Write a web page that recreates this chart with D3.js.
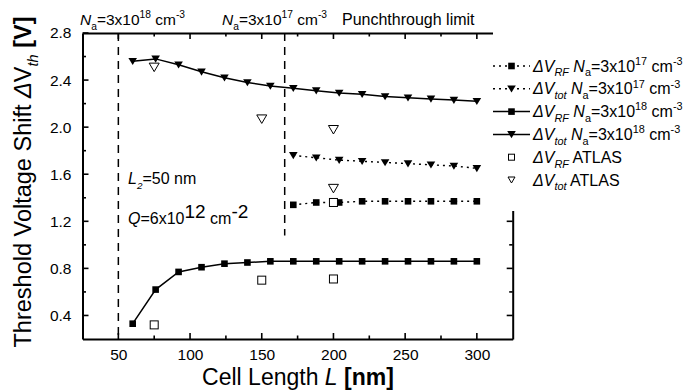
<!DOCTYPE html>
<html><head><meta charset="utf-8">
<script src="https://cdn.jsdelivr.net/npm/d3@7/dist/d3.min.js"></script>
<style>
body{margin:0;background:#fff;}
text{font-family:Arial,"Liberation Sans",sans-serif;fill:#000;}
</style></head>
<body><svg id="c" width="691" height="392"></svg>
<script>
// ---- data ----
const xTicks = [50, 100, 150, 200, 250, 300];
const yTicks = [0.4, 0.8, 1.2, 1.6, 2.0, 2.4, 2.8];
const L18 = [60, 76, 92, 108, 124, 140, 156, 172, 188, 204, 220, 236, 252, 268, 284, 300];
const rf18 = [0.33, 0.62, 0.77, 0.81, 0.84, 0.85, 0.86, 0.86, 0.86, 0.86, 0.86, 0.86, 0.86, 0.86, 0.86, 0.86];
const tot18 = [2.56, 2.58, 2.53, 2.47, 2.42, 2.38, 2.35, 2.33, 2.31, 2.29, 2.28, 2.26, 2.25, 2.24, 2.23, 2.22];
const L17 = [172, 188, 204, 220, 236, 252, 268, 284, 300];
const rf17 = [1.34, 1.36, 1.36, 1.37, 1.37, 1.37, 1.37, 1.37, 1.37];
const tot17 = [1.76, 1.74, 1.72, 1.71, 1.70, 1.69, 1.68, 1.67, 1.65];
const atlasRfL = [75, 150, 200, 200];
const atlasRf = [0.32, 0.70, 0.71, 1.36];
const atlasTotL = [75, 150, 200, 200];
const atlasTot = [2.51, 2.07, 1.98, 1.48];
const vLinesX = [50, 166];
const vLinesBottom = [0.2, 1.08];

const svg = d3.select('#c');
const X = d3.scaleLinear().domain([25, 325]).range([82.5, 512.7]);
const Y = d3.scaleLinear().domain([0.2, 2.8]).range([339, 33]);

function rich(sel, parts, fs, supScale) {
  const sc = supScale || 0.62;
  let shift = 0;
  parts.forEach(p => {
    const ts = sel.append('tspan').text(p.t);
    let target = 0, size = fs;
    if (p.sub) { target = fs * 0.3; size = fs * sc; }
    if (p.sup) { target = -fs * 0.42; size = fs * sc; }
    if (p.size) size = p.size;
    if (p.shift !== undefined) target = p.shift;
    ts.attr('dy', target - shift).style('font-size', size + 'px');
    shift = target;
    if (p.i) ts.style('font-style', 'italic');
    if (p.b) ts.style('font-weight', 'bold');
  });
}

// dashed vertical lines
vLinesX.forEach((v, i) => {
  svg.append('line').attr('x1', X(v)).attr('x2', X(v))
    .attr('y1', Y(2.8)).attr('y2', Y(vLinesBottom[i]))
    .attr('stroke', '#000').attr('stroke-width', 1.5).attr('stroke-dasharray', '8,6');
});

// axes
const gB = svg.append('g').attr('transform', `translate(0,${Y(0.2)})`);
gB.call(d3.axisBottom(X).tickValues(xTicks).tickSize(0).tickPadding(10).tickFormat(d3.format('d')));
const gT = svg.append('g').attr('transform', `translate(0,${Y(2.8)})`);
gT.call(d3.axisTop(X).tickValues([]).tickSize(0));
const gL = svg.append('g').attr('transform', `translate(${X(25)},0)`);
gL.call(d3.axisLeft(Y).tickValues(yTicks).tickSize(0).tickPadding(11).tickFormat(d3.format('.1f')));
const gR = svg.append('g').attr('transform', `translate(${X(325)},0)`);
gR.call(d3.axisRight(Y).tickValues([]).tickSize(0));
[gB, gT, gL, gR].forEach(g => {
  g.select('.domain').attr('stroke', '#000').attr('stroke-width', 2);
  g.selectAll('text').style('font-size', '15.5px').style('font-family', 'Arial, "Liberation Sans", sans-serif');
});

// inward ticks
const xMaj = d3.range(50, 301, 50), xMin = d3.range(75, 326, 50);
const yMaj = d3.range(0.4, 2.81, 0.4), yMin = d3.range(0.6, 2.7, 0.4);
const tk = svg.append('g').attr('stroke', '#000').attr('stroke-width', 1.6);
xMaj.forEach(v => {
  tk.append('line').attr('x1', X(v)).attr('x2', X(v)).attr('y1', Y(0.2)).attr('y2', Y(0.2) - 6);
  tk.append('line').attr('x1', X(v)).attr('x2', X(v)).attr('y1', Y(2.8)).attr('y2', Y(2.8) + 6);
});
xMin.filter(v => v < 325).forEach(v => {
  tk.append('line').attr('x1', X(v)).attr('x2', X(v)).attr('y1', Y(0.2)).attr('y2', Y(0.2) - 3.5);
  tk.append('line').attr('x1', X(v)).attr('x2', X(v)).attr('y1', Y(2.8)).attr('y2', Y(2.8) + 3.5);
});
yMaj.forEach(v => {
  tk.append('line').attr('x1', X(25)).attr('x2', X(25) + 6).attr('y1', Y(v)).attr('y2', Y(v));
  tk.append('line').attr('x1', X(325)).attr('x2', X(325) - 6).attr('y1', Y(v)).attr('y2', Y(v));
});
yMin.forEach(v => {
  tk.append('line').attr('x1', X(25)).attr('x2', X(25) + 3.5).attr('y1', Y(v)).attr('y2', Y(v));
  tk.append('line').attr('x1', X(325)).attr('x2', X(325) - 3.5).attr('y1', Y(v)).attr('y2', Y(v));
});

// markers
function sqFilled(g, x, y) { g.append('rect').attr('x', x - 3.3).attr('y', y - 3.3).attr('width', 6.6).attr('height', 6.6).attr('fill', '#000'); }
function sqOpen(g, x, y) { g.append('rect').attr('x', x - 4).attr('y', y - 4).attr('width', 8).attr('height', 8).attr('fill', '#fff').attr('stroke', '#000').attr('stroke-width', 1); }
function triFilled(g, x, y) { g.append('path').attr('d', `M${x - 4.3},${y - 3.3}L${x + 4.3},${y - 3.3}L${x},${y + 3.8}Z`).attr('fill', '#000'); }
function triOpen(g, x, y) { g.append('path').attr('d', `M${x - 5},${y - 4}L${x + 5},${y - 4}L${x},${y + 4.5}Z`).attr('fill', '#fff').attr('stroke', '#000').attr('stroke-width', 1); }

const line = d3.line().x(d => X(d[0])).y(d => Y(d[1]));
function series(xs, ys, dotted, mk) {
  const pts = xs.map((x, i) => [x, ys[i]]);
  svg.append('path').attr('d', line(pts)).attr('fill', 'none').attr('stroke', '#000')
    .attr('stroke-width', dotted ? 1.4 : 1.5).attr('stroke-dasharray', dotted ? '2,4' : null);
  const g = svg.append('g');
  pts.forEach(p => mk(g, X(p[0]), Y(p[1])));
}
series(L18, rf18, false, sqFilled);
series(L18, tot18, false, triFilled);
series(L17, rf17, true, sqFilled);
series(L17, tot17, true, triFilled);
const ga = svg.append('g');
atlasRfL.forEach((x, i) => sqOpen(ga, X(x), Y(atlasRf[i])));
atlasTotL.forEach((x, i) => triOpen(ga, X(x), Y(atlasTot[i])));

// legend (white box covers part of frame)
svg.append('rect').attr('x', 493).attr('y', 20).attr('width', 200).attr('height', 191).attr('fill', '#fff');
const legRows = [
  { dotted: true, mk: sqFilled, txt: [{ t: 'Δ', i: 1 }, { t: 'V', i: 1 }, { t: 'RF', i: 1, sub: 1 }, { t: ' ' }, { t: 'N', i: 1 }, { t: 'a', sub: 1 }, { t: '=3x10' }, { t: '17', sup: 1 }, { t: ' cm' }, { t: '-3', sup: 1 }] },
  { dotted: true, mk: triFilled, txt: [{ t: 'Δ', i: 1 }, { t: 'V', i: 1 }, { t: 'tot', i: 1, sub: 1 }, { t: ' ' }, { t: 'N', i: 1 }, { t: 'a', sub: 1 }, { t: '=3x10' }, { t: '17', sup: 1 }, { t: ' cm' }, { t: '-3', sup: 1 }] },
  { dotted: false, mk: sqFilled, txt: [{ t: 'Δ', i: 1 }, { t: 'V', i: 1 }, { t: 'RF', i: 1, sub: 1 }, { t: ' ' }, { t: 'N', i: 1 }, { t: 'a', sub: 1 }, { t: '=3x10' }, { t: '18', sup: 1 }, { t: ' cm' }, { t: '-3', sup: 1 }] },
  { dotted: false, mk: triFilled, txt: [{ t: 'Δ', i: 1 }, { t: 'V', i: 1 }, { t: 'tot', i: 1, sub: 1 }, { t: ' ' }, { t: 'N', i: 1 }, { t: 'a', sub: 1 }, { t: '=3x10' }, { t: '18', sup: 1 }, { t: ' cm' }, { t: '-3', sup: 1 }] },
  { dotted: null, mk: (g, x, y) => { g.append('rect').attr('x', x - 3).attr('y', y - 3).attr('width', 6).attr('height', 6).attr('fill', '#fff').attr('stroke', '#000').attr('stroke-width', 1); }, txt: [{ t: 'Δ', i: 1 }, { t: 'V', i: 1 }, { t: 'RF', i: 1, sub: 1 }, { t: ' ATLAS', shift: 0 }] },
  { dotted: null, mk: (g, x, y) => { g.append('path').attr('d', `M${x - 3.5},${y - 3}L${x + 3.5},${y - 3}L${x},${y + 3}Z`).attr('fill', '#fff').attr('stroke', '#000').attr('stroke-width', 1); }, txt: [{ t: 'Δ', i: 1 }, { t: 'V', i: 1 }, { t: 'tot', i: 1, sub: 1 }, { t: ' ATLAS', shift: 0 }] },
];
const legY0 = 66, legDy = 22.8;
legRows.forEach((r, i) => {
  const y = legY0 + i * legDy;
  const g = svg.append('g');
  if (r.dotted !== null) {
    g.append('line').attr('x1', 493).attr('x2', 530).attr('y1', y).attr('y2', y).attr('stroke', '#000')
      .attr('stroke-width', r.dotted ? 1.4 : 1.5).attr('stroke-dasharray', r.dotted ? '2,4' : null);
  }
  r.mk(g, 511.5, y);
  const t = svg.append('text').attr('x', 533).attr('y', y + 5.5);
  rich(t, r.txt, 16, 0.68);
});

// top labels
const fsTop = 15.5;
rich(svg.append('text').attr('x', 80).attr('y', 25), [{ t: 'N', i: 1 }, { t: 'a', sub: 1 }, { t: '=3x10' }, { t: '18', sup: 1 }, { t: ' cm' }, { t: '-3', sup: 1 }], fsTop, 0.66);
rich(svg.append('text').attr('x', 222).attr('y', 25), [{ t: 'N', i: 1 }, { t: 'a', sub: 1 }, { t: '=3x10' }, { t: '17', sup: 1 }, { t: ' cm' }, { t: '-3', sup: 1 }], fsTop, 0.66);
svg.append('text').attr('x', 342).attr('y', 25).style('font-size', '16px').text('Punchthrough limit');

// inner annotations
rich(svg.append('text').attr('x', 128).attr('y', 184), [{ t: 'L', i: 1 }, { t: '2', sub: 1, i: 1 }, { t: '=50 nm' }], 16);
rich(svg.append('text').attr('x', 128).attr('y', 224), [{ t: 'Q', i: 1 }, { t: '=6x10' }, { t: '12', shift: -6, size: 19 }, { t: ' cm', shift: 0 }, { t: '-2', shift: -6, size: 19 }], 16);

// axis titles
rich(svg.append('text').attr('x', 298).attr('y', 385).attr('text-anchor', 'middle'),
  [{ t: 'Cell Length ' }, { t: 'L', i: 1 }, { t: ' ' }, { t: '[nm]', b: 1 }], 23);
rich(svg.append('text').attr('transform', 'translate(31,182) rotate(-90)').attr('text-anchor', 'middle'),
  [{ t: 'Threshold Voltage Shift ' }, { t: 'Δ', i: 1 }, { t: 'V' }, { t: 'th', i: 1, sub: 1 }, { t: ' ', shift: 0 }, { t: '[V]', b: 1 }], 23.5);
</script></body></html>
